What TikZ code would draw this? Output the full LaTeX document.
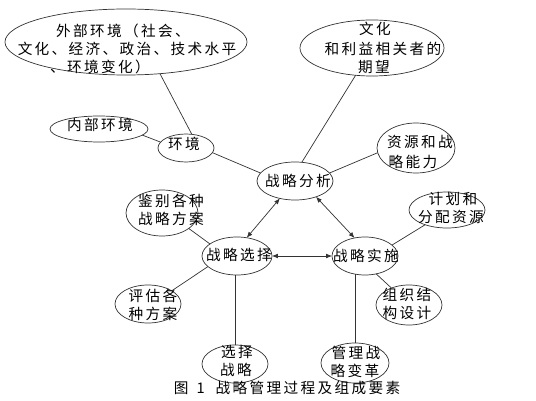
\documentclass[tikz,border=0pt]{standalone}
\usepackage{fontspec}
\setmainfont{Noto Sans CJK SC}[LetterSpace=16]
\usetikzlibrary{shapes.geometric,arrows.meta}
\begin{document}
\begin{tikzpicture}[x=0.03cm,y=-0.03cm,
  ell/.style={draw=black!80, line width=0.6pt, ellipse, inner sep=0pt, outer sep=0pt},
  e/.style 2 args={ell, minimum width=#1*0.06cm, minimum height=#2*0.06cm},
  txt/.style={inner sep=0pt, text height=0.83em, text depth=0.07em, font=\fontsize{12.5}{15}\selectfont},
  ln/.style={draw=black!80, line width=0.6pt},
  dar/.style={ln, {Latex[length=5pt,width=4pt]}-{Latex[length=5pt,width=4pt]}}]
\useasboundingbox (0,0) rectangle (536,401);
% ellipses
\node[e={121}{33}] (ext) at (126,42) {};
\node[e={72}{28}] (cult) at (372,48) {};
\node[e={49}{13}] (int) at (99,129) {};
\node[e={28}{14}] (env) at (186,148) {};
\node[e={38}{19}] (ana) at (295,181) {};
\node[e={39}{25}] (res) at (416,148) {};
\node[e={38}{18}] (plan) at (447,210) {};
\node[e={33}{19}] (impl) at (365,256) {};
\node[e={35}{19}] (sel) at (237,256) {};
\node[e={36}{23}] (ident) at (162,213) {};
\node[e={33}{19}] (eval) at (148,304) {};
\node[e={33}{19}] (choose) at (235,364) {};
\node[e={34}{20}] (mgmt) at (355,363) {};
\node[e={33}{20}] (org) at (409,305) {};
% texts
\node[txt] (text1) at (123,32) {外部环境（社会、};
\node[txt] (text2) at (127,50) {文化、经济、政治、技术水平};
\node[txt] (text3) at (100,68) {、环境变化）};
\node[txt] (cult1) at (375,30) {文化};
\node[txt] (cult2) at (383,50) {和利益相关者的};
\node[txt] (cult3) at (374,68) {期望};
\node[txt] (intT) at (100,126) {内部环境};
\node[txt] (envT) at (184,145) {环境};
\node[txt] (anaT) at (298,182) {战略分析};
\node[txt] (res1) at (420,143) {资源和战};
\node[txt] (res2) at (413,163) {略能力};
\node[txt] (plan1) at (453,200) {计划和};
\node[txt] (plan2) at (451,218) {分配资源};
\node[txt] (implT) at (366,257) {战略实施};
\node[txt] (selT) at (239,256) {战略选择};
\node[txt] (ident1) at (171,202) {鉴别各种};
\node[txt] (ident2) at (171,220) {战略方案};
\node[txt] (eval1) at (153,297) {评估各};
\node[txt] (eval2) at (153,315) {种方案};
\node[txt] (choose1) at (237,353) {选择};
\node[txt] (choose2) at (236,371) {战略};
\node[txt] (mgmt1) at (356,354) {管理战};
\node[txt] (mgmt2) at (355,372) {略变革};
\node[txt] (org1) at (407,296) {组织结};
\node[txt] (org2) at (407,314) {构设计};
\node[txt] (caption) at (287,389) {图\hspace{0.55em}1\hspace{0.75em}战略管理过程及组成要素};
% connectors
\draw[ln] (ext.-43) -- (env.67);
\draw[ln] (int.-8) -- (env.167);
\draw[ln] (env.-10) -- (ana.167);
\draw[ln] (cult.-121) -- (ana.70);
\draw[ln] (res.187) -- (ana.13);
\draw[ln] (plan.-146) -- (impl.22);
\draw[ln] (impl.-58) -- (org.136);
\draw[ln] (impl.-119) -- (impl.-119 |- mgmt.north);
\draw[ln] (sel.-96) -- (sel.-96 |- choose.north);
\draw[ln] (sel.-160) -- (eval.29);
\draw[ln] (ident.-30) -- (sel.156);
% arrows
\draw[dar] (ana.-131) -- (sel.62);
\draw[dar] (ana.-37) -- (impl.120);
\draw[dar] (sel.east) -- (impl.west);
\end{tikzpicture}
\end{document}
